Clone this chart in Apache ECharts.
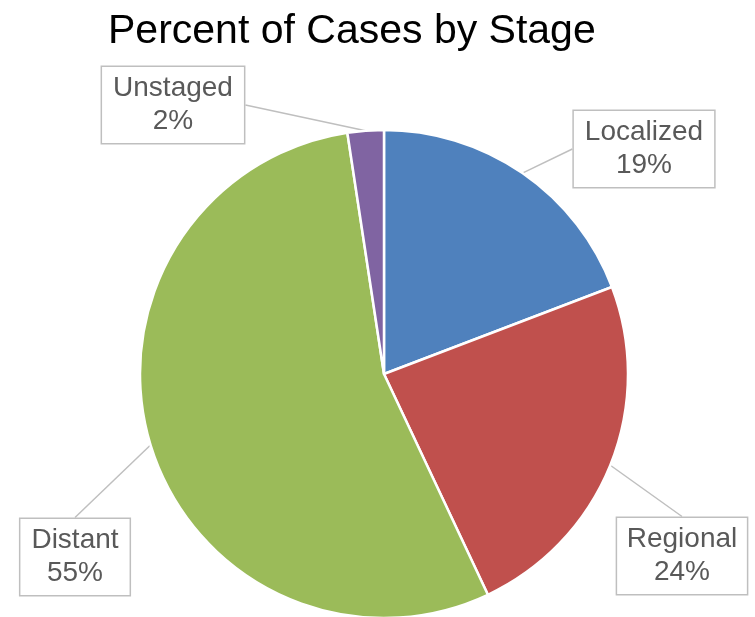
<!DOCTYPE html>
<html>
<head>
<meta charset="utf-8">
<script src="https://cdn.jsdelivr.net/npm/echarts@6/dist/echarts.min.js"></script>
<style>
  html, body { margin: 0; padding: 0; background: #fff; }
  #chart { width: 755px; height: 617px; }
</style>
</head>
<body>
<div id="chart"></div>
<script>
// values (slice sizes), labels shown rounded
const stages = ['Localized', 'Regional', 'Distant', 'Unstaged'];
const shares = [19.2, 23.8, 54.6, 2.4];
const colors = ['#4F81BD', '#C0504D', '#9BBB59', '#8064A2'];

// where each callout box sits (centre, px)
const labelSpots = [[644, 149], [682, 556], [75, 557], [173, 105]];

const chart = echarts.init(document.getElementById('chart'));

const option = {
    animation: false,
    title: {
        text: 'Percent of Cases by Stage',
        left: 103,
        top: 6,
        textStyle: {
            fontFamily: 'Liberation Sans',
            fontSize: 41,
            fontWeight: 'normal',
            color: '#000'
        }
    },
    series: [{
        type: 'pie',
        center: [384, 374],
        radius: 244,
        startAngle: 90,
        clockwise: true,
        data: stages.map((name, i) => ({
            name: name,
            value: shares[i],
            itemStyle: { color: colors[i] }
        })),
        itemStyle: {
            borderColor: '#fff',
            borderWidth: 2.5
        },
        emphasis: { disabled: true },
        label: {
            show: true,
            formatter: function(p) {
                return p.name + '\n' + Math.round(p.percent) + '%';
            },
            fontFamily: 'Liberation Sans',
            fontSize: 28,
            lineHeight: 33,
            color: '#595959',
            align: 'center',
            overflow: 'none',
            backgroundColor: '#fff',
            borderColor: '#BFBFBF',
            borderWidth: 1.5,
            padding: [5, 11]
        },
        labelLine: {
            show: true,
            length: 0,
            length2: 0,
            lineStyle: { color: '#BFBFBF', width: 1.5 }
        },
        labelLayout: function(params) {
            const spot = labelSpots[params.dataIndex];
            return {
                x: spot[0],
                y: spot[1],
                align: 'center',
                verticalAlign: 'middle'
            };
        }
    }]
};

chart.setOption(option);
</script>
</body>
</html>
